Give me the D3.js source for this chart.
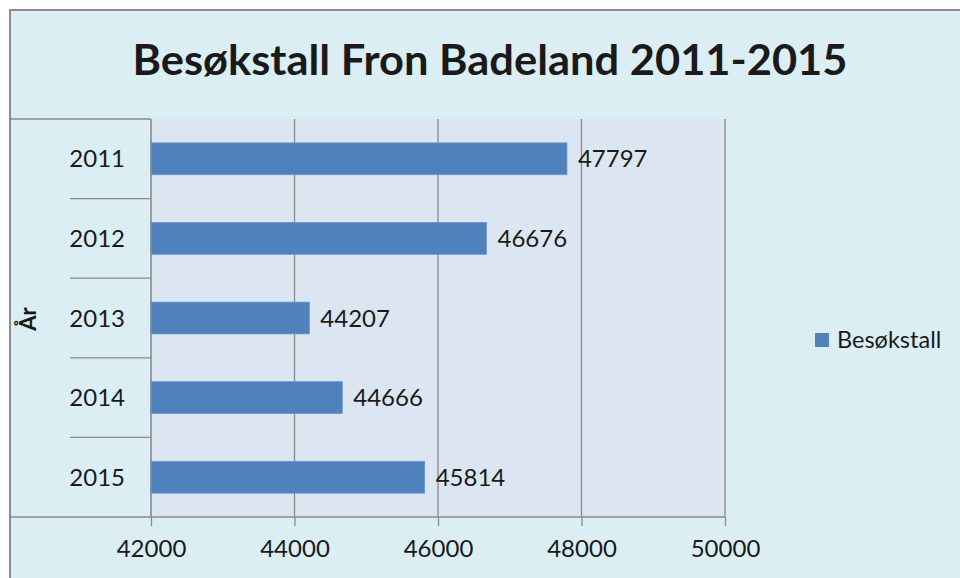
<!DOCTYPE html>
<html>
<head>
<meta charset="utf-8">
<script src="https://cdn.jsdelivr.net/npm/d3@7"></script>
<style>
  body { margin: 0; background: #fff; }
  svg { display: block; }
  text { font-family: Lato, "Open Sans", sans-serif; fill: #1a1a1a; }
</style>
</head>
<body>
<div id="container"></div>
<script>
/* DATA */
const years = ["2011", "2012", "2013", "2014", "2015"]
const visitors = [47797, 46676, 44207, 44666, 45814]
const xTicks = [42000, 44000, 46000, 48000, 50000]
const seriesName = "Besøkstall"
const title = "Besøkstall Fron Badeland 2011-2015"
const yTitle = "År"

/* CONSTANTS */
const width = 960,
  height = 578
const plot = { left: 151, right: 725, top: 119, bottom: 517 }

const svg = d3.select("#container")
  .append("svg")
  .attr("width", width)
  .attr("height", height)

// outer chart area
svg.append("rect")
  .attr("x", 10).attr("y", 10)
  .attr("width", 980).attr("height", 600)
  .attr("fill", "#dbeef4")
  .attr("stroke", "#8c8c8c")
  .attr("stroke-width", 2)

/* SCALES */
const xScale = d3.scaleLinear()
  .domain([42000, 50000])
  .range([plot.left, plot.right])

const yScale = d3.scaleBand()
  .domain(years)
  .range([plot.top, plot.bottom])
  .paddingInner(0.6)
  .paddingOuter(0.3)

const bandScale = d3.scaleBand()
  .domain(years)
  .range([plot.top, plot.bottom])

// plot area background
svg.append("rect")
  .attr("x", plot.left).attr("y", plot.top)
  .attr("width", plot.right - plot.left)
  .attr("height", plot.bottom - plot.top)
  .attr("fill", "#dce6f2")

// vertical gridlines
svg.selectAll("line.grid")
  .data(xTicks.slice(1))
  .join("line")
  .attr("class", "grid")
  .attr("x1", d => xScale(d)).attr("x2", d => xScale(d))
  .attr("y1", plot.top).attr("y2", plot.bottom)
  .attr("stroke", "#8a8a8a")
  .attr("stroke-width", 1.3)

// left label box lines
svg.append("line")
  .attr("x1", 10).attr("x2", plot.left)
  .attr("y1", plot.top).attr("y2", plot.top)
  .attr("stroke", "#8a8a8a").attr("stroke-width", 1.3)

svg.selectAll("line.sep")
  .data(years.slice(1))
  .join("line")
  .attr("class", "sep")
  .attr("x1", 70).attr("x2", plot.left)
  .attr("y1", d => bandScale(d)).attr("y2", d => bandScale(d))
  .attr("stroke", "#8a8a8a").attr("stroke-width", 1.3)

/* BARS */
const data = years.map((y, i) => ({ year: y, value: visitors[i] }))

svg.selectAll("rect.bar")
  .data(data)
  .join("rect")
  .attr("class", "bar")
  .attr("x", xScale(42000))
  .attr("y", d => yScale(d.year))
  .attr("width", d => xScale(d.value) - xScale(42000))
  .attr("height", yScale.bandwidth())
  .attr("fill", "#4f81bd")
  .attr("stroke", "#6a96cc")
  .attr("stroke-width", 0.8)

// data labels
svg.selectAll("text.val")
  .data(data)
  .join("text")
  .attr("class", "val")
  .attr("x", d => xScale(d.value) + 11)
  .attr("y", d => yScale(d.year) + yScale.bandwidth() / 2)
  .attr("dy", "0.36em")
  .attr("font-size", 24)
  .text(d => d.value)

/* AXES */
// y axis (category labels)
svg.append("line")
  .attr("x1", plot.left).attr("x2", plot.left)
  .attr("y1", plot.top).attr("y2", plot.bottom)
  .attr("stroke", "#8a8a8a").attr("stroke-width", 1.6)

svg.selectAll("text.cat")
  .data(years)
  .join("text")
  .attr("class", "cat")
  .attr("x", 125)
  .attr("y", d => bandScale(d) + bandScale.bandwidth() / 2)
  .attr("dy", "0.36em")
  .attr("text-anchor", "end")
  .attr("font-size", 24)
  .text(d => d)

// x axis
const xAxis = d3.axisBottom(xScale)
  .tickValues(xTicks)
  .tickSize(9)
  .tickPadding(14)
  .tickFormat(d3.format("d"))

const gx = svg.append("g")
  .attr("transform", `translate(0,${plot.bottom})`)
  .call(xAxis)
gx.select(".domain").remove()
gx.selectAll(".tick line").attr("stroke", "#8a8a8a").attr("stroke-width", 1.3)
gx.selectAll(".tick text")
  .attr("font-size", 24)
  .attr("font-family", "Lato, sans-serif")
  .attr("fill", "#1a1a1a")

svg.append("line")
  .attr("x1", 10).attr("x2", plot.right)
  .attr("y1", plot.bottom).attr("y2", plot.bottom)
  .attr("stroke", "#8a8a8a").attr("stroke-width", 1.6)

// y axis title
svg.append("text")
  .attr("transform", "translate(36,319) rotate(-90)")
  .attr("text-anchor", "middle")
  .attr("font-size", 22)
  .attr("font-weight", "bold")
  .text(yTitle)

/* TITLE */
svg.append("text")
  .attr("x", 490)
  .attr("y", 75)
  .attr("text-anchor", "middle")
  .attr("font-size", 42)
  .attr("font-weight", "bold")
  .attr("textLength", 715)
  .attr("lengthAdjust", "spacingAndGlyphs")
  .text(title)

/* LEGEND */
const legend = svg.append("g").attr("transform", "translate(815,333)")
legend.append("rect")
  .attr("width", 14).attr("height", 14)
  .attr("fill", "#4f81bd")
legend.append("text")
  .attr("x", 22).attr("y", 7)
  .attr("dy", "0.36em")
  .attr("font-size", 23.5)
  .text(seriesName)
</script>
</body>
</html>
